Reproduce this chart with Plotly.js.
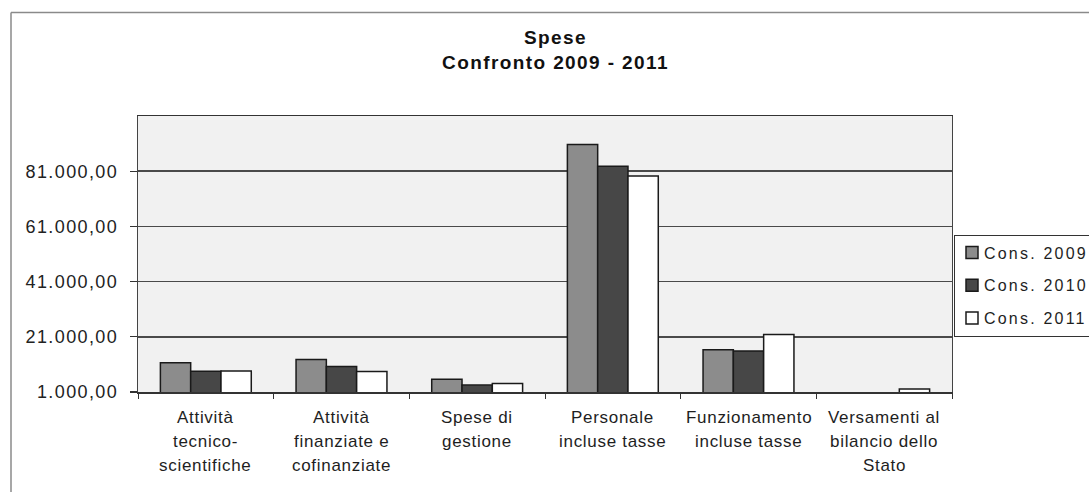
<!DOCTYPE html>
<html>
<head>
<meta charset="utf-8">
<script src="https://cdn.plot.ly/plotly-3.0.1.min.js"></script>
<style>
  html, body { margin: 0; padding: 0; background: #ffffff; }
  #chart { width: 1089px; height: 492px; }
  .gtitle { letter-spacing: 1.4px; }
  g.ytick text { letter-spacing: 1.4px; }
  .legendtext { letter-spacing: 2.2px; transform: translateX(-8px); }
  .annotation-text { letter-spacing: 0.7px; }
</style>
</head>
<body>
<div id="chart"></div>
<script>
// ---- data ----
const categories = [
  "Attività tecnico-scientifiche",
  "Attività finanziate e cofinanziate",
  "Spese di gestione",
  "Personale incluse tasse",
  "Funzionamento incluse tasse",
  "Versamenti al bilancio dello Stato"
];
const categoryLabels = [
  "Attività|tecnico-|scientifiche",
  "Attività|finanziate e|cofinanziate",
  "Spese di|gestione",
  "Personale|incluse tasse",
  "Funzionamento|incluse tasse",
  "Versamenti al|bilancio dello|Stato"
];
const seriesNames = ["Cons. 2009", "Cons. 2010", "Cons. 2011"];
const cons2009 = [11600, 12800, 5600, 90700, 16350, 0];
const cons2010 = [8500, 10200, 3500, 82800, 15850, 0];
const cons2011 = [8600, 8400, 4100, 79300, 21800, 2100];
const yTickVals = [1000, 21000, 41000, 61000, 81000];
const yTickText = ["1.000,00", "21.000,00", "41.000,00", "61.000,00", "81.000,00"];
const yRange = [1000, 101000];
const chartTitle = "Spese<br>Confronto 2009 - 2011";

// ---- styling ----
const seriesValues = [cons2009, cons2010, cons2011];
const seriesColors = ["#8c8c8c", "#474747", "#ffffff"];
const fontFamily = "Liberation Sans, Arial, sans-serif";

const traces = seriesValues.map((vals, i) => ({
  type: "bar",
  name: seriesNames[i],
  x: categories,
  y: vals,
  legendgroup: "g" + i,
  marker: { color: seriesColors[i], line: { color: "#1a1a1a", width: 1.5 } },
  hoverinfo: "skip"
}));

const annotations = [];
categoryLabels.forEach((lab, i) => {
  lab.split("|").forEach((line, j) => {
    annotations.push({
      x: categories[i], xref: "x",
      y: 0, yref: "paper",
      yanchor: "middle", xanchor: "center",
      yshift: -(25 + 24 * j),
      text: line, showarrow: false,
      font: { family: fontFamily, size: 17, color: "#1e1e1e" }
    });
  });
});

const L = 138, R = 137, T = 116, B = 100;
const plotW = 1089 - L - R, plotH = 492 - T - B;
const frameX = (11 - L) / plotW;
const frameY = (492 - B - 12.5) / plotH;

const layout = {
  width: 1089, height: 492,
  paper_bgcolor: "#ffffff",
  plot_bgcolor: "#f1f1f1",
  margin: { l: L, r: R, t: T, b: B, autoexpand: false },
  title: {
    text: chartTitle,
    x: 555.5 / 1089, xref: "container", xanchor: "center",
    y: 1 - 44 / 492, yref: "container", yanchor: "top",
    font: { family: fontFamily, size: 19, color: "#111111", weight: "bold" }
  },
  barmode: "group",
  bargap: 0.33,
  bargroupgap: 0,
  showlegend: true,
  legend: {
    x: (954 - L) / plotW, xref: "paper", xanchor: "left",
    y: (492 - B - 234.5) / plotH, yref: "paper", yanchor: "top",
    bgcolor: "#ffffff",
    bordercolor: "#333333", borderwidth: 1,
    font: { family: fontFamily, size: 16, color: "#1e1e1e" },
    traceorder: "grouped",
    tracegroupgap: 9,
    itemwidth: 30,
    indentation: -3
  },
  xaxis: {
    type: "category",
    showticklabels: false,
    ticks: "outside", ticklen: 5, tickcolor: "#333333", tickwidth: 1,
    tickson: "boundaries",
    showline: true, linecolor: "#333333", linewidth: 1.5, mirror: true,
    showgrid: false, zeroline: false, fixedrange: true
  },
  yaxis: {
    range: yRange,
    tickmode: "array", tickvals: yTickVals, ticktext: yTickText,
    ticks: "outside", ticklen: 7, tickcolor: "#333333", tickwidth: 1.2,
    ticklabelstandoff: 8,
    tickfont: { family: fontFamily, size: 18, color: "#222222" },
    showline: true, linecolor: "#444444", linewidth: 1.2, mirror: true,
    showgrid: true, gridcolor: "#4a4a4a", gridwidth: 1.5,
    zeroline: false, fixedrange: true
  },
  annotations: annotations,
  shapes: [
    { type: "line", xref: "paper", yref: "paper",
      x0: frameX, x1: frameX, y0: -0.5, y1: frameY,
      line: { color: "#8a8a8a", width: 1.5 } },
    { type: "line", xref: "paper", yref: "paper",
      x0: frameX, x1: 1.3, y0: frameY, y1: frameY,
      line: { color: "#8a8a8a", width: 1.5 } }
  ]
};

Plotly.newPlot("chart", traces, layout, { displayModeBar: false, staticPlot: true });
</script>
</body>
</html>
